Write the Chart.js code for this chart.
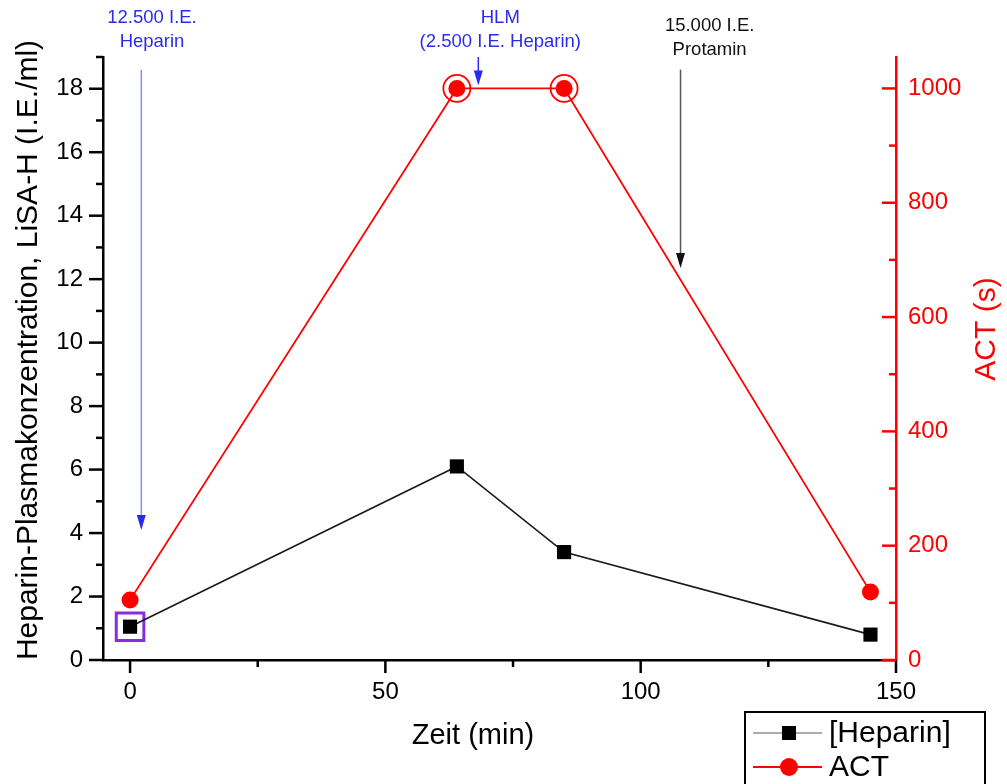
<!DOCTYPE html>
<html>
<head>
<meta charset="utf-8">
<script src="https://cdn.jsdelivr.net/npm/chart.js@4.4.1/dist/chart.umd.min.js"></script>
<style>
  html, body { margin: 0; padding: 0; background: #fff; }
</style>
</head>
<body>
<canvas id="chart" width="1007" height="784"></canvas>
<script>
// values
const timeMin = [0, 64, 85, 145];
const heparinLevel = [1.05, 6.1, 3.4, 0.8];
const actSeconds = [105, 1000, 1000, 119];

const ringTimes = [64, 85];
const ringAct = [1000, 1000];
const boxTimes = [0];
const boxHeparin = [1.05];

const xTickValues = [0, 50, 100, 150];
const xMinorValues = [25, 75, 125];
const leftTickValues = [0, 2, 4, 6, 8, 10, 12, 14, 16, 18];
const leftMinorValues = [1, 3, 5, 7, 9, 11, 13, 15, 17, 19];
const rightTickValues = [0, 200, 400, 600, 800, 1000];
const rightMinorValues = [100, 300, 500, 700, 900];

// annotations (x in minutes, arrow start/end on the left axis)
const noteTime = [2.2, 68.2, 107.8];
const noteTextTime = [4.3, 72.5, 113.5];
const noteArrowFrom = [18.6, 19.0, 18.6];
const noteArrowTo = [4.1, 18.1, 12.35];
const noteLines = [
  ["12.500 I.E.", "Heparin"],
  ["HLM", "(2.500 I.E. Heparin)"],
  ["15.000 I.E.", "Protamin"],
];
const noteColors = ["#2b2bf0", "#2b2bf0", "#111111"];
const noteShaftColors = ["#8a8aff", "#2b2bf0", "#555555"];

const FONT = '"Liberation Sans", Arial, sans-serif';
const RED = "#ff0000";

function toPoints(xs, ys) {
  return xs.map((x, i) => ({ x: x, y: ys[i] }));
}

function setTicks(values) {
  return function (scale) {
    scale.ticks = values.map((v) => ({ value: v }));
  };
}

const plainLabel = (value) => String(value);

const tickMarksPlugin = {
  id: "tickMarks",
  afterDraw(chart) {
    const ctx = chart.ctx;
    const area = chart.chartArea;
    const { x, y, y2 } = chart.scales;
    ctx.save();
    ctx.lineWidth = 2.5;

    ctx.strokeStyle = "#000";
    leftTickValues.forEach((v) => {
      const py = y.getPixelForValue(v);
      ctx.beginPath(); ctx.moveTo(area.left - 14, py); ctx.lineTo(area.left, py); ctx.stroke();
    });
    leftMinorValues.forEach((v) => {
      const py = y.getPixelForValue(v);
      ctx.beginPath(); ctx.moveTo(area.left - 7, py); ctx.lineTo(area.left, py); ctx.stroke();
    });
    xTickValues.forEach((v) => {
      const px = x.getPixelForValue(v);
      ctx.beginPath(); ctx.moveTo(px, area.bottom); ctx.lineTo(px, area.bottom + 13); ctx.stroke();
    });
    xMinorValues.forEach((v) => {
      const px = x.getPixelForValue(v);
      ctx.beginPath(); ctx.moveTo(px, area.bottom); ctx.lineTo(px, area.bottom + 7); ctx.stroke();
    });

    ctx.strokeStyle = RED;
    rightTickValues.forEach((v) => {
      const py = y2.getPixelForValue(v);
      ctx.beginPath(); ctx.moveTo(area.right - 14, py); ctx.lineTo(area.right, py); ctx.stroke();
    });
    rightMinorValues.forEach((v) => {
      const py = y2.getPixelForValue(v);
      ctx.beginPath(); ctx.moveTo(area.right - 7, py); ctx.lineTo(area.right, py); ctx.stroke();
    });

    // axis titles
    ctx.fillStyle = "#000";
    ctx.font = "29px " + FONT;
    ctx.textAlign = "center";
    ctx.textBaseline = "middle";
    ctx.fillText("Zeit (min)", 473, 736);

    ctx.save();
    ctx.font = "30px " + FONT;
    ctx.translate(29, 350);
    ctx.rotate(-Math.PI / 2);
    ctx.fillText("Heparin-Plasmakonzentration, LiSA-H (I.E./ml)", 0, 0);
    ctx.restore();

    ctx.save();
    ctx.fillStyle = RED;
    ctx.font = "30px " + FONT;
    ctx.translate(987, 329);
    ctx.rotate(-Math.PI / 2);
    ctx.fillText("ACT (s)", 0, 0);
    ctx.restore();

    ctx.restore();
  },
};

const notesPlugin = {
  id: "notes",
  afterDatasetsDraw(chart) {
    const ctx = chart.ctx;
    const { x, y } = chart.scales;
    ctx.save();
    noteTime.forEach((t, i) => {
      const px = x.getPixelForValue(t);
      const top = y.getPixelForValue(noteArrowFrom[i]);
      const tip = y.getPixelForValue(noteArrowTo[i]);
      ctx.strokeStyle = noteShaftColors[i];
      ctx.lineWidth = 1.5;
      ctx.beginPath();
      ctx.moveTo(px, top);
      ctx.lineTo(px, tip - 12);
      ctx.stroke();
      ctx.fillStyle = noteColors[i];
      ctx.beginPath();
      ctx.moveTo(px, tip);
      ctx.lineTo(px - 4.5, tip - 15);
      ctx.lineTo(px + 4.5, tip - 15);
      ctx.closePath();
      ctx.fill();

      const tx = x.getPixelForValue(noteTextTime[i]);
      ctx.font = "18.5px " + FONT;
      ctx.textAlign = "center";
      ctx.textBaseline = "middle";
      const baseY = i === 2 ? 26 : 18;
      noteLines[i].forEach((line, k) => {
        ctx.fillText(line, tx, baseY + k * 24);
      });
    });
    ctx.restore();
  },
};

const legendPlugin = {
  id: "boxLegend",
  afterDraw(chart) {
    const ctx = chart.ctx;
    ctx.save();
    ctx.fillStyle = "#fff";
    ctx.fillRect(745, 712, 240, 80);
    ctx.strokeStyle = "#000";
    ctx.lineWidth = 2;
    ctx.strokeRect(745, 712, 240, 80);

    ctx.lineWidth = 2;
    ctx.strokeStyle = "#aaaaaa";
    ctx.beginPath(); ctx.moveTo(753, 733); ctx.lineTo(822, 733); ctx.stroke();
    ctx.fillStyle = "#000";
    ctx.fillRect(782, 726, 14, 14);

    ctx.strokeStyle = RED;
    ctx.beginPath(); ctx.moveTo(753, 767); ctx.lineTo(822, 767); ctx.stroke();
    ctx.fillStyle = RED;
    ctx.beginPath(); ctx.arc(789, 767, 9, 0, Math.PI * 2); ctx.fill();

    ctx.fillStyle = "#000";
    ctx.font = "30px " + FONT;
    ctx.textAlign = "left";
    ctx.textBaseline = "middle";
    ctx.fillText("[Heparin]", 829, 734);
    ctx.fillText("ACT", 829, 768);
    ctx.restore();
  },
};

function buildChart() {
  const canvas = document.getElementById("chart");
  new Chart(canvas.getContext("2d"), {
    type: "line",
    data: {
      datasets: [
        {
          label: "[Heparin]",
          data: toPoints(timeMin, heparinLevel),
          yAxisID: "y",
          borderColor: "#1a1a1a",
          backgroundColor: "#000",
          borderWidth: 1.7,
          pointStyle: "rect",
          pointRadius: 10,
          pointBorderWidth: 0,
        },
        {
          label: "ACT",
          data: toPoints(timeMin, actSeconds),
          yAxisID: "y2",
          borderColor: RED,
          backgroundColor: RED,
          borderWidth: 1.7,
          pointStyle: "circle",
          pointRadius: 8.5,
          pointBorderWidth: 0,
        },
        {
          label: "ring",
          data: toPoints(ringTimes, ringAct),
          yAxisID: "y2",
          showLine: false,
          borderColor: RED,
          backgroundColor: "rgba(0,0,0,0)",
          pointRadius: 13.5,
          pointBorderWidth: 1.8,
        },
        {
          label: "box",
          data: toPoints(boxTimes, boxHeparin),
          yAxisID: "y",
          showLine: false,
          pointStyle: "rect",
          borderColor: "#8a2be2",
          backgroundColor: "rgba(0,0,0,0)",
          pointRadius: 19.5,
          pointBorderWidth: 3,
        },
      ],
    },
    options: {
      responsive: false,
      animation: false,
      devicePixelRatio: 1,
      layout: { padding: { top: 57, left: 0, right: 0, bottom: 0 } },
      plugins: {
        legend: { display: false },
        tooltip: { enabled: false },
      },
      scales: {
        x: {
          type: "linear",
          min: -5.3,
          max: 150,
          afterBuildTicks: setTicks(xTickValues),
          afterFit: (s) => { s.height = 124; },
          grid: { display: false },
          border: { color: "#000", width: 2.5 },
          ticks: {
            padding: 10,
            color: "#000",
            callback: plainLabel,
            font: { family: FONT, size: 24 },
          },
        },
        y: {
          position: "left",
          min: 0,
          max: 19,
          afterBuildTicks: setTicks(leftTickValues),
          afterFit: (s) => { s.width = 103; },
          grid: { display: false },
          border: { color: "#000", width: 2.5 },
          ticks: {
            padding: 12,
            color: "#000",
            callback: plainLabel,
            font: { family: FONT, size: 24 },
          },
        },
        y2: {
          position: "right",
          min: 0,
          max: 1055,
          afterBuildTicks: setTicks(rightTickValues),
          afterFit: (s) => { s.width = 111; },
          grid: { display: false },
          border: { color: RED, width: 2.5 },
          ticks: {
            padding: 4,
            color: RED,
            callback: plainLabel,
            font: { family: FONT, size: 24 },
          },
        },
      },
    },
    plugins: [tickMarksPlugin, notesPlugin, legendPlugin],
  });
}

window.addEventListener("DOMContentLoaded", buildChart);
</script>
</body>
</html>
